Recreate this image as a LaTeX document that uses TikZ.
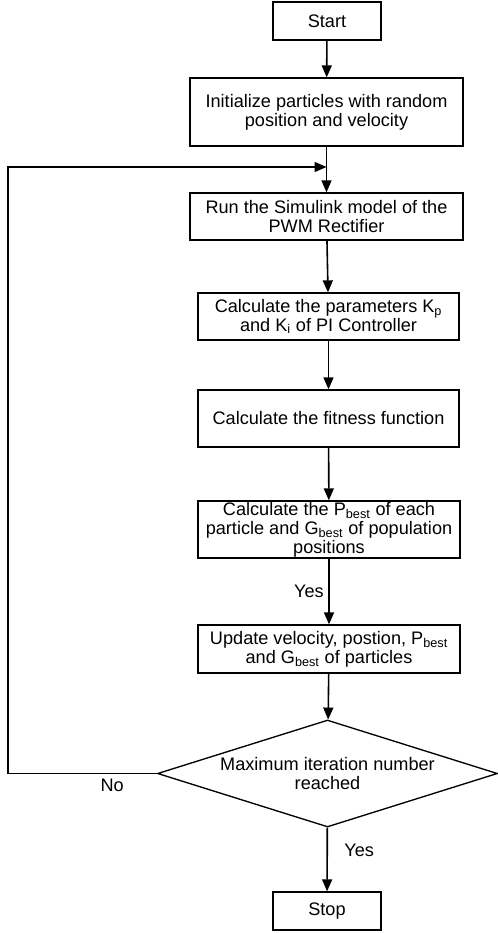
\documentclass[tikz,border=0pt]{standalone}
\usepackage{fontspec}
\setmainfont{Liberation Sans}
\usetikzlibrary{shapes.geometric,arrows.meta}

\begin{document}
\begin{tikzpicture}[x=0.75pt, y=-0.75pt, align=center,
  font=\fontsize{13.6}{14.2}\selectfont,
  box/.style={draw, line width=1pt, inner sep=0pt},
  >={Triangle[length=9pt,width=7.5pt]}, line width=1.2pt]

\useasboundingbox (0,0) rectangle (498,933);

% Steps
\node[box, minimum width=81pt, minimum height=28.5pt] (start) at (327,21) {Start};
\node[box, minimum width=204.75pt, minimum height=51pt] (init) at (326.5,112)
  {Initialize particles with random\\position and velocity};
\node[box, minimum width=204.75pt, minimum height=35.25pt] (run) at (326.5,216.5)
  {Run the Simulink model of the\\PWM Rectifier};
\node[box, minimum width=195.75pt, minimum height=35.25pt] (param) at (328.5,316.5)
  {Calculate the parameters K\textsubscript{p}\\and K\textsubscript{i} of PI Controller};
\node[box, minimum width=195.75pt, minimum height=42.75pt] (fit) at (328.5,418.5)
  {Calculate the fitness function};
\node[box, minimum width=196.5pt, minimum height=42.75pt] (best) at (329,529.5)
  {Calculate the P\textsubscript{best} of each\\particle and G\textsubscript{best} of population\\positions};
\node[box, minimum width=196.5pt, minimum height=36pt] (update) at (329,649)
  {Update velocity, postion, P\textsubscript{best}\\and G\textsubscript{best} of particles};

% Decision
\node[box, diamond, aspect=3.2, minimum width=255pt, minimum height=80.25pt] (check) at (327.5,773.5)
  {Maximum iteration number\\reached};
\node[box, minimum width=81pt, minimum height=28.5pt] (stop) at (327,911) {Stop};

% Loop points
\coordinate (merge) at (326.5,167);
\coordinate (back) at (8,773.5);

% Arrows
\draw[->] (start) -- (init);
\draw[->] (init) -- (run);
\draw[->] (run) -- (param);
\draw[->] (param) -- (fit);
\draw[->] (fit) -- (best);
\draw[->] (best) -- node[left] {Yes} (update);
\draw[->] (update) -- (check);
\draw[->] (check) -- node[right, pos=0.35, xshift=9pt] {Yes} (stop);
\draw[->] (check.west) -- node[below, pos=0.3] {No} (back) |- (merge);

\end{tikzpicture}
\end{document}
